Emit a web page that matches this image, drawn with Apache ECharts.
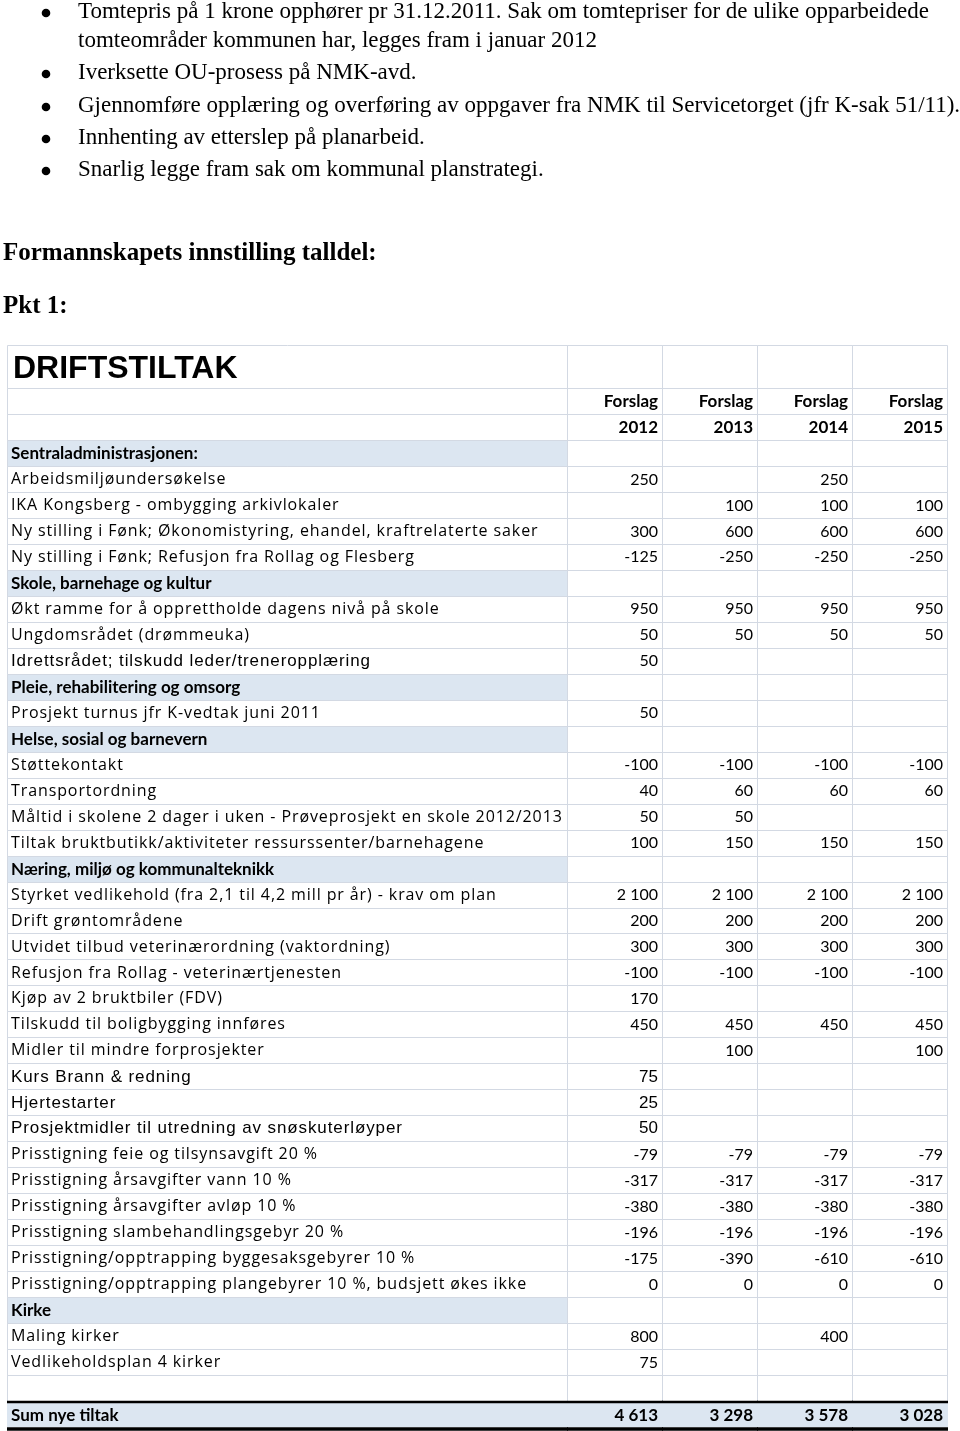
<!DOCTYPE html>
<html><head><meta charset="utf-8">
<script src="https://cdn.jsdelivr.net/npm/echarts@6/dist/echarts.min.js"></script>
<style>html,body{margin:0;padding:0;background:#fff}#c{width:960px;height:1431px}</style>
</head><body><div id="c"></div><script>
// ---------- data ----------
const bulletLines = [
  { bullet: true,  text: 'Tomtepris på 1 krone opphører pr 31.12.2011. Sak om tomtepriser for de ulike opparbeidede' },
  { bullet: false, text: 'tomteområder kommunen har, legges fram i januar 2012' },
  { bullet: true,  text: 'Iverksette OU-prosess på NMK-avd.' },
  { bullet: true,  text: 'Gjennomføre opplæring og overføring av oppgaver fra NMK til Servicetorget (jfr K-sak 51/11).' },
  { bullet: true,  text: 'Innhenting av etterslep på planarbeid.' },
  { bullet: true,  text: 'Snarlig legge fram sak om kommunal planstrategi.' }
];
const heading = 'Formannskapets innstilling talldel:';
const subHeading = 'Pkt 1:';
const tableTitle = 'DRIFTSTILTAK';
const headerWord = 'Forslag';
const years = ['2012', '2013', '2014', '2015'];
const rowLabels = [
  'Sentraladministrasjonen:',
  'Arbeidsmiljøundersøkelse',
  'IKA Kongsberg - ombygging arkivlokaler',
  'Ny stilling i Fønk; Økonomistyring, ehandel, kraftrelaterte saker',
  'Ny stilling i Fønk; Refusjon fra Rollag og Flesberg',
  'Skole, barnehage og kultur',
  'Økt ramme for å opprettholde dagens nivå på skole',
  'Ungdomsrådet (drømmeuka)',
  'Idrettsrådet; tilskudd leder/treneropplæring',
  'Pleie, rehabilitering og omsorg',
  'Prosjekt turnus jfr K-vedtak juni 2011',
  'Helse, sosial og barnevern',
  'Støttekontakt',
  'Transportordning',
  'Måltid i skolene 2 dager i uken - Prøveprosjekt en skole 2012/2013',
  'Tiltak bruktbutikk/aktiviteter ressurssenter/barnehagene',
  'Næring, miljø og kommunalteknikk',
  'Styrket vedlikehold (fra 2,1 til 4,2 mill pr år) - krav om plan',
  'Drift grøntområdene',
  'Utvidet tilbud veterinærordning (vaktordning)',
  'Refusjon fra Rollag - veterinærtjenesten',
  'Kjøp av 2 bruktbiler (FDV)',
  'Tilskudd til boligbygging innføres',
  'Midler til mindre forprosjekter',
  'Kurs Brann & redning',
  'Hjertestarter',
  'Prosjektmidler til utredning av snøskuterløyper',
  'Prisstigning feie og tilsynsavgift 20 %',
  'Prisstigning årsavgifter vann 10 %',
  'Prisstigning årsavgifter avløp 10 %',
  'Prisstigning slambehandlingsgebyr 20 %',
  'Prisstigning/opptrapping byggesaksgebyrer 10 %',
  'Prisstigning/opptrapping plangebyrer 10 %, budsjett økes ikke',
  'Kirke',
  'Maling kirker',
  'Vedlikeholdsplan 4 kirker',
  '',
  'Sum nye tiltak'
];
const sectionRows = ['Sentraladministrasjonen:', 'Skole, barnehage og kultur', 'Pleie, rehabilitering og omsorg',
  'Helse, sosial og barnevern', 'Næring, miljø og kommunalteknikk', 'Kirke'];
const sumRow = 'Sum nye tiltak';
const arialLabelRows = ['Idrettsrådet; tilskudd leder/treneropplæring', 'Kurs Brann & redning', 'Hjertestarter',
  'Prosjektmidler til utredning av snøskuterløyper'];
const arialNumberRows = ['Kurs Brann & redning', 'Hjertestarter', 'Prosjektmidler til utredning av snøskuterløyper'];

const v2012 = [null,250,null,300,-125,null,950,50,50,null,50,null,-100,40,50,100,null,2100,200,300,-100,170,450,null,75,25,50,-79,-317,-380,-196,-175,0,null,800,75,null,4613];
const v2013 = [null,null,100,600,-250,null,950,50,null,null,null,null,-100,60,50,150,null,2100,200,300,-100,null,450,100,null,null,null,-79,-317,-380,-196,-390,0,null,null,null,null,3298];
const v2014 = [null,250,100,600,-250,null,950,50,null,null,null,null,-100,60,null,150,null,2100,200,300,-100,null,450,null,null,null,null,-79,-317,-380,-196,-610,0,null,400,null,null,3578];
const v2015 = [null,null,100,600,-250,null,950,50,null,null,null,null,-100,60,null,150,null,2100,200,300,-100,null,450,100,null,null,null,-79,-317,-380,-196,-610,0,null,null,null,null,3028];
const valueCols = [v2012, v2013, v2014, v2015];

// ---------- styling ----------
const GRID_LINE = '#d3d9e3';
const SECTION_FILL = '#dce6f1';
const TXT = '#000';
const F_LABEL = '16px "Open Sans"';
const F_ARIAL = '17px "Liberation Sans"';
const F_BOLD = 'bold 17px Lato';
const F_NUM = '16px Lato';
const SPACED_Z = 1;          // layer used for the letter-spaced row labels
const LETTER_SPACING = '0.9px';

const HEADER_ROWS = 2; // "Forslag" row + year row
const bodyCats = [];
for (let k = 0; k < HEADER_ROWS + rowLabels.length; k++) bodyCats.push(String(k));

function fmt(n) {
  if (n === null || n === undefined) return '';
  const s = String(Math.abs(n)).replace(/\B(?=(\d{3})+(?!\d))/g, ' ');
  return (n < 0 ? '-' : '') + s;
}
function cellBox(api, x, y) {
  const c = api.coord([x, y]);
  const s = api.size([1, 1]);
  return { x: c[0] - s[0] / 2, y: c[1] - s[1] / 2, w: s[0], h: s[1] };
}
function border(b) {
  const x0 = Math.round(b.x) + 0.5, y0 = Math.round(b.y) + 0.5;
  const x1 = Math.round(b.x + b.w) + 0.5, y1 = Math.round(b.y + b.h) + 0.5;
  return { type: 'rect', silent: true, shape: { x: x0, y: y0, width: x1 - x0, height: y1 - y0 },
    style: { fill: 'none', stroke: GRID_LINE, lineWidth: 1 } };
}
function fillRect(b, color, full) {
  const x0 = Math.round(b.x) + (full ? 0 : 1), y0 = Math.round(b.y) + 1;
  const x1 = Math.round(b.x + b.w) + (full ? 1 : 0), y1 = Math.round(b.y + b.h);
  return { type: 'rect', silent: true, shape: { x: x0, y: y0, width: x1 - x0, height: y1 - y0 }, style: { fill: color } };
}
function sumLines(b) {
  const x0 = Math.round(b.x), x1 = Math.round(b.x + b.w) + 1;
  const yt = Math.round(b.y) + 1, yb = Math.round(b.y + b.h) + 2;
  return [
    { type: 'line', silent: true, shape: { x1: x0, y1: yt, x2: x1, y2: yt }, style: { stroke: '#000', lineWidth: 2.5 } },
    { type: 'line', silent: true, shape: { x1: x0, y1: yb, x2: x1, y2: yb }, style: { stroke: '#000', lineWidth: 3.5 } }
  ];
}
function txt(text, x, y, font, align) {
  return { type: 'text', silent: true, style: { text: text, x: x, y: y, font: font, fill: TXT, align: align, verticalAlign: 'middle' } };
}
function isSpaced(label) {
  return !!label && label !== sumRow && sectionRows.indexOf(label) < 0;
}

// label column cells (backgrounds, borders, bold texts)
function renderLabel(params, api) {
  const k = api.value(1);
  const b = cellBox(api, 0, k);
  const children = [];
  if (k < HEADER_ROWS) {
    children.push(border(b));
  } else {
    const label = rowLabels[k - HEADER_ROWS];
    if (label === sumRow) {
      children.push(fillRect(b, SECTION_FILL, true));
      children.push.apply(children, sumLines(b));
      children.push(txt(label, b.x + 4, b.y + b.h / 2 + 2, F_BOLD, 'left'));
    } else {
      if (sectionRows.indexOf(label) >= 0) {
        children.push(fillRect(b, SECTION_FILL, false));
        children.push(border(b));
        children.push(txt(label, b.x + 4, b.y + b.h / 2 + 0.5, F_BOLD, 'left'));
      } else {
        children.push(border(b));
      }
    }
  }
  return { type: 'group', children: children };
}
// letter-spaced item labels (own layer)
function renderSpacedLabel(params, api) {
  const k = api.value(1);
  const b = cellBox(api, 0, k);
  const label = rowLabels[k - HEADER_ROWS];
  const font = arialLabelRows.indexOf(label) >= 0 ? F_ARIAL : F_LABEL;
  return txt(label, b.x + 4, b.y + b.h / 2 + 0.5, font, 'left');
}
// numeric columns renderer
function renderNum(params, api) {
  const j = api.value(0), k = api.value(1);
  const b = cellBox(api, j, k);
  const children = [];
  const rx = b.x + b.w - 4, cy = b.y + b.h / 2 + 0.5;
  if (k === 0) {
    children.push(border(b));
    children.push(txt(headerWord, rx, cy, F_BOLD, 'right'));
  } else if (k === 1) {
    children.push(border(b));
    children.push(txt(years[j], rx, cy, F_BOLD, 'right'));
  } else {
    const label = rowLabels[k - HEADER_ROWS];
    const v = valueCols[j][k - HEADER_ROWS];
    if (label === sumRow) {
      children.push(fillRect(b, SECTION_FILL, true));
      children.push.apply(children, sumLines(b));
      children.push(txt(fmt(v), rx, cy + 1.5, F_BOLD, 'right'));
    } else {
      children.push(border(b));
      const font = arialNumberRows.indexOf(label) >= 0 ? F_ARIAL : F_NUM;
      if (v !== null) children.push(txt(fmt(v), rx, cy, font, 'right'));
    }
  }
  return { type: 'group', children: children };
}
function renderTitleLabel(params, api) {
  const b = cellBox(api, 0, 0);
  return { type: 'group', children: [border(b), txt(tableTitle, b.x + 6, b.y + b.h / 2 + 2.5, 'bold 32px "Liberation Sans"', 'left')] };
}
function renderTitleNum(params, api) {
  const b = cellBox(api, api.value(0), 0);
  return { type: 'group', children: [border(b)] };
}

const labelData = bodyCats.map((c, k) => [0, k]);
const spacedData = [];
rowLabels.forEach((l, i) => { if (isSpaced(l)) spacedData.push([0, i + HEADER_ROWS]); });
const numData = [];
bodyCats.forEach((c, k) => { years.forEach((y, j) => numData.push([j, k])); });

// top text graphics
const lineY = [12, 41, 73, 106, 138, 170];
const graphics = [];
bulletLines.forEach((l, i) => {
  if (l.bullet) graphics.push({ type: 'circle', shape: { cx: 46, cy: lineY[i] + 1, r: 4.3 }, style: { fill: TXT } });
  graphics.push({ type: 'text', x: 78, y: lineY[i], style: { text: l.text, font: '23px "Liberation Serif"', fill: TXT, align: 'left', verticalAlign: 'middle' } });
});
graphics.push({ type: 'text', x: 3, y: 254, style: { text: heading, font: 'bold 25px "Liberation Serif"', fill: TXT, align: 'left', verticalAlign: 'middle' } });
graphics.push({ type: 'text', x: 3, y: 307, style: { text: subHeading, font: 'bold 25px "Liberation Serif"', fill: TXT, align: 'left', verticalAlign: 'middle' } });

const chart = echarts.init(document.getElementById('c'), null, { renderer: 'canvas' });
chart.setOption({
  animation: false,
  backgroundColor: '#fff',
  graphic: graphics,
  grid: [
    { left: 7, top: 388, width: 560, height: 1039 },
    { left: 567, top: 388, width: 380, height: 1039 },
    { left: 7, top: 345, width: 560, height: 43 },
    { left: 567, top: 345, width: 380, height: 43 }
  ],
  xAxis: [
    { type: 'category', gridIndex: 0, data: ['label'], show: false },
    { type: 'category', gridIndex: 1, data: years, show: false },
    { type: 'category', gridIndex: 2, data: ['label'], show: false },
    { type: 'category', gridIndex: 3, data: years, show: false }
  ],
  yAxis: [
    { type: 'category', gridIndex: 0, data: bodyCats, inverse: true, show: false },
    { type: 'category', gridIndex: 1, data: bodyCats, inverse: true, show: false },
    { type: 'category', gridIndex: 2, data: [tableTitle], inverse: true, show: false },
    { type: 'category', gridIndex: 3, data: [tableTitle], inverse: true, show: false }
  ],
  series: [
    { type: 'custom', xAxisIndex: 0, yAxisIndex: 0, data: labelData, renderItem: renderLabel, clip: false, silent: true },
    { type: 'custom', xAxisIndex: 0, yAxisIndex: 0, data: spacedData, renderItem: renderSpacedLabel, clip: false, silent: true, zlevel: SPACED_Z },
    { type: 'custom', xAxisIndex: 1, yAxisIndex: 1, data: numData, renderItem: renderNum, clip: false, silent: true },
    { type: 'custom', xAxisIndex: 2, yAxisIndex: 2, data: [[0, 0]], renderItem: renderTitleLabel, clip: false, silent: true },
    { type: 'custom', xAxisIndex: 3, yAxisIndex: 3, data: years.map((y, j) => [j, 0]), renderItem: renderTitleNum, clip: false, silent: true }
  ]
});
// the source PDF shows these labels letter-spaced; give their canvas layer the same spacing
try {
  const painter = chart.getZr().painter;
  const layer = painter.getLayer(SPACED_Z);
  if (layer && layer.ctx && ('letterSpacing' in layer.ctx)) {
    layer.ctx.letterSpacing = LETTER_SPACING;
    painter.refresh(true);
  }
} catch (e) {}
</script></body></html>
